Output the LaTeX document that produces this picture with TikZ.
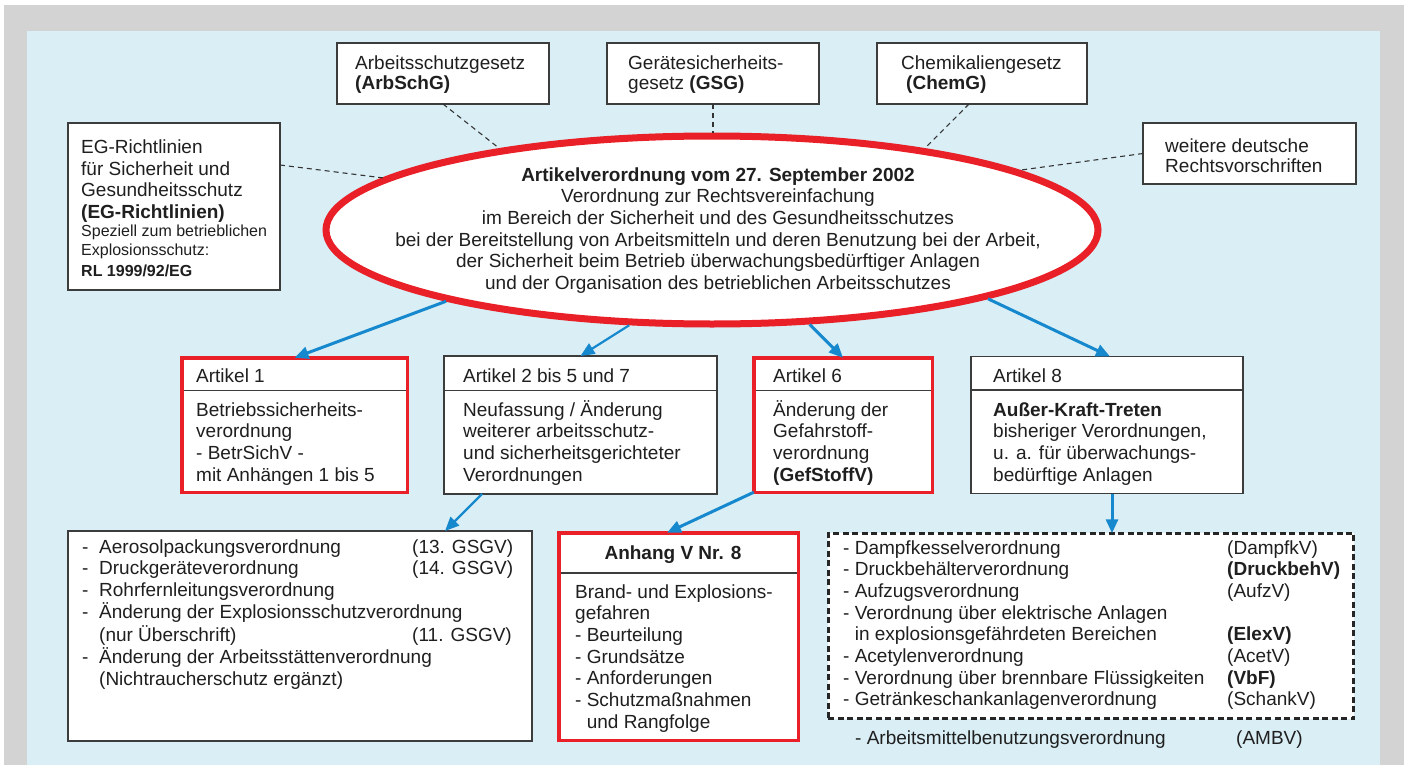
\documentclass[tikz,border=0pt]{standalone}
\usepackage{fontspec}
\setmainfont{Liberation Sans}
\usetikzlibrary{arrows.meta,shapes.geometric}

\definecolor{framegray}{RGB}{211,211,211}
\definecolor{paleblue}{RGB}{217,238,245}
\definecolor{lawred}{RGB}{233,32,40}
\definecolor{flowblue}{RGB}{22,136,206}
\definecolor{rimgray}{RGB}{60,60,60}

\newcommand{\boxlines}[1]{\begin{tabular}[t]{@{}l@{}}#1\end{tabular}}
\newcommand{\smalltxt}{\fontsize{16}{18.3}\selectfont}
\newcommand{\listrow}[2]{\makebox[17pt][l]{-}\makebox[313pt][l]{#1}#2}
\newcommand{\oldrow}[2]{\makebox[384pt][l]{#1}#2}

\begin{document}
\begin{tikzpicture}[x=1pt,y=-1pt,
  font=\fontsize{19}{21.7}\selectfont, text=black!88,
  lawbox/.style={draw=rimgray, line width=1.3pt, fill=white, inner sep=0pt, outer sep=0pt},
  redbox/.style={draw=lawred, line width=3.5pt, fill=white, inner sep=0pt, outer sep=0pt},
  txt/.style={anchor=base west, inner sep=0pt},
  sepline/.style={draw=rimgray, line width=1.2pt},
  link/.style={draw=black!80, line width=1.1pt, dash pattern=on 5pt off 4pt},
  flow/.style={draw=flowblue, line width=3pt, -{Triangle[length=14pt,width=12pt]}},
  thinflow/.style={flow, line width=2.2pt}]

  % frame
  \useasboundingbox (0,0) rectangle (1404,765);
  \fill[framegray] (4,5) rectangle (1404,765);
  \fill[paleblue] (27,31) rectangle (1380,765);

  % laws on top
  \node[lawbox, minimum width=212pt, minimum height=61pt] (arbschg) at (443,73.5) {};
  \node[txt] (arbschgtxt) at (355,70) {\boxlines{Arbeitsschutzgesetz\\[-1.7pt] \textbf{(ArbSchG)}}};
  \node[lawbox, minimum width=212pt, minimum height=61pt] (gsg) at (713,73.5) {};
  \node[txt] (gsgtxt) at (628,70) {\boxlines{Gerätesicherheits-\\[-1.7pt] gesetz \textbf{(GSG)}}};
  \node[lawbox, minimum width=210pt, minimum height=61pt] (chemg) at (982,73.5) {};
  \node[txt] (chemgtxt) at (901,70) {\boxlines{Chemikaliengesetz\\[-1.7pt] \hspace{5pt}\textbf{(ChemG)}}};
  \node[lawbox, minimum width=212pt, minimum height=167pt] (eg) at (174,206.5) {};
  \node[txt] (egtxt) at (81,153.3) {\boxlines{EG-Richtlinien\\ für Sicherheit und\\ Gesundheitsschutz\\
    \textbf{(EG-Richtlinien)}\\[-3.3pt] \smalltxt Speziell zum betrieblichen\\[-3.4pt]
    \smalltxt Explosionsschutz:\\ \smalltxt\textbf{RL 1999/92/EG}}};
  \node[lawbox, minimum width=213pt, minimum height=61pt] (weitere) at (1249.5,153.5) {};
  \node[txt] (weiteretxt) at (1165,152.5) {\boxlines{weitere deutsche\\[-1.7pt] Rechtsvorschriften}};

  % the Artikelverordnung
  \node[ellipse, draw=lawred, line width=7pt, fill=white, minimum width=772pt,
    minimum height=188pt, inner sep=0pt] (avo) at (712,230) {};
  \node[anchor=base, inner sep=0pt] (avotxt) at (718,181) {\begin{tabular}[t]{@{}c@{}}
    \textbf{Artikelverordnung vom 27. September 2002}\\
    Verordnung zur Rechtsvereinfachung\\
    im Bereich der Sicherheit und des Gesundheitsschutzes\\
    bei der Bereitstellung von Arbeitsmitteln und deren Benutzung bei der Arbeit,\\
    der Sicherheit beim Betrieb überwachungsbedürftiger Anlagen\\
    und der Organisation des betrieblichen Arbeitsschutzes\end{tabular}};

  \draw[link] (arbschg.south) -- (avo.159);
  \draw[link] (gsg.south) -- (gsg.south |- avo.north);
  \draw[link] ([xshift=-13pt]chemg.south) -- (avo.21);
  \draw[link] ([yshift=41.5pt]eg.east) -- (avo.171);
  \draw[link] (weitere.west) -- (avo.11);

  % Artikel 1 to 8
  \node[redbox, minimum width=225.5pt, minimum height=134.5pt] (art1) at (294.5,425) {};
  \draw[sepline, shorten <=1.75pt, shorten >=1.75pt] (art1.west |- 0,390.5) -- (art1.east |- 0,390.5);
  \node[txt] (art1head) at (196,382) {Artikel 1};
  \node[txt] (art1body) at (196,416) {\boxlines{Betriebssicherheits-\\ verordnung\\ - BetrSichV -\\ mit Anhängen 1 bis 5}};

  \node[lawbox, minimum width=273pt, minimum height=138pt] (art2) at (580.5,425) {};
  \draw[sepline] (art2.west |- 0,390.5) -- (art2.east |- 0,390.5);
  \node[txt] (art2head) at (463,382) {Artikel 2 bis 5 und 7};
  \node[txt] (art2body) at (463,416) {\boxlines{Neufassung / Änderung\\ weiterer arbeitsschutz-\\ und sicherheitsgerichteter\\ Verordnungen}};

  \node[redbox, minimum width=178.5pt, minimum height=134.5pt] (art6) at (843,425) {};
  \draw[sepline, shorten <=1.75pt, shorten >=1.75pt] (art6.west |- 0,390.5) -- (art6.east |- 0,390.5);
  \node[txt] (art6head) at (773,382) {Artikel 6};
  \node[txt] (art6body) at (773,416) {\boxlines{Änderung der\\ Gefahrstoff-\\ verordnung\\ \textbf{(GefStoffV)}}};

  \node[lawbox, minimum width=272pt, minimum height=137pt] (art8) at (1107,425) {};
  \draw[sepline] (art8.west |- 0,390) -- (art8.east |- 0,390);
  \node[txt] (art8head) at (993,382) {Artikel 8};
  \node[txt] (art8body) at (993,416) {\boxlines{\textbf{Außer-Kraft-Treten}\\ bisheriger Verordnungen,\\ u. a. für überwachungs-\\ bedürftige Anlagen}};

  \draw[flow] (avo.195) -- (art1.north);
  \draw[thinflow] (avo.229) -- (art2.north);
  \draw[flow] (avo.316) -- (art6.north);
  \draw[flow] (avo.346) -- ([xshift=3pt]art8.north);

  % what the Artikel change
  \node[lawbox, minimum width=464pt, minimum height=210pt] (list) at (300,636) {};
  \node[txt] (listtxt) at (82,553) {\boxlines{\listrow{Aerosolpackungsverordnung}{(13. GSGV)}\\
    \listrow{Druckgeräteverordnung}{(14. GSGV)}\\
    \listrow{Rohrfernleitungsverordnung}{}\\
    \listrow{Änderung der Explosionsschutzverordnung}{}\\
    \hspace{17pt}\makebox[313pt][l]{(nur Überschrift)}(11. GSGV)\\
    \listrow{Änderung der Arbeitsstättenverordnung}{}\\
    \hspace{17pt}(Nichtraucherschutz ergänzt)}};

  \node[redbox, minimum width=239.5pt, minimum height=207.5pt] (anhang) at (678.5,636.5) {};
  \draw[sepline, shorten <=1.75pt, shorten >=1.75pt] (anhang.west |- 0,573) -- (anhang.east |- 0,573);
  \node[anchor=base, inner sep=0pt] (anhanghead) at (673,559) {\textbf{Anhang V Nr. 8}};
  \node[txt] (anhangbody) at (575,598) {\boxlines{Brand- und Explosions-\\ gefahren\\ - Beurteilung\\ - Grundsätze\\
    - Anforderungen\\ - Schutzmaßnahmen\\ \phantom{- }und Rangfolge}};

  \node[draw=black!85, line width=2.6pt, dash pattern=on 6pt off 3.5pt, fill=white, inner sep=0pt,
    outer sep=0pt, minimum width=525.5pt, minimum height=185.5pt] (dsbox) at (1091,626) {};
  \node[txt] (dstxt) at (843,554) {\boxlines{\oldrow{- Dampfkesselverordnung}{(DampfkV)}\\
    \oldrow{- Druckbehälterverordnung}{\textbf{(DruckbehV)}}\\
    \oldrow{- Aufzugsverordnung}{(AufzV)}\\
    - Verordnung über elektrische Anlagen\\
    \oldrow{\phantom{- }in explosionsgefährdeten Bereichen}{\textbf{(ElexV)}}\\
    \oldrow{- Acetylenverordnung}{(AcetV)}\\
    \oldrow{- Verordnung über brennbare Flüssigkeiten}{\textbf{(VbF)}}\\
    \oldrow{- Getränkeschankanlagenverordnung}{(SchankV)}}};
  \node[txt] (ambv) at (855,744) {\makebox[381pt][l]{- Arbeitsmittelbenutzungsverordnung}(AMBV)};

  \draw[thinflow] ([xshift=38pt]art2.south west) -- ([xshift=-87pt]list.north east);
  \draw[flow] (art6.south west) -- ([xshift=-11.5pt]anhang.north);
  \coordinate (art8out) at ([xshift=5pt]art8.south);
  \draw[flow] (art8out) -- (art8out |- dsbox.north);
\end{tikzpicture}
\end{document}
